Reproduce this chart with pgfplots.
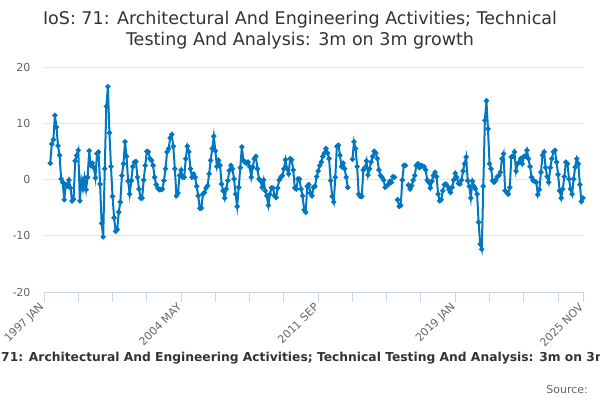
\documentclass[border=0pt]{standalone}
\usepackage{fontspec}
\setmainfont{DejaVu Sans}
\usepackage{pgfplots}
\pgfplotsset{compat=1.18}
\usepackage{pgfplotstable}
\definecolor{series}{RGB}{0,119,192}
\definecolor{gridc}{RGB}{230,230,230}
\definecolor{axisc}{RGB}{204,214,235}
\definecolor{txt}{RGB}{51,51,51}
\definecolor{lbl}{RGB}{102,102,102}

\pgfplotstableread{
m v
4 2.9
5 6.3
6 7.1
7 11.4
8 9.3
9 6.0
10 4.3
11 0.1
12 -0.5
13 -3.6
14 -0.9
15 -1.2
16 -0.1
17 -1.5
18 -3.8
19 -3.5
20 3.3
21 4.3
22 5.2
23 -3.8
24 -0.2
25 -1.7
26 0.3
27 -1.8
28 0.4
29 5.1
30 2.5
31 2.9
32 2.1
33 0.3
34 4.6
35 4.9
36 -0.8
37 -7.8
38 -10.2
39 1.9
40 13.0
41 16.5
42 8.3
43 2.3
44 -3.0
45 -6.8
46 -9.2
47 -8.9
48 -5.8
49 -4.0
50 0.7
51 2.8
52 6.7
53 4.1
54 -0.3
55 -2.6
56 -0.2
57 2.3
58 3.1
59 3.2
60 0.4
61 -1.7
62 -3.3
63 -3.3
64 -0.1
65 2.5
66 5.0
67 4.9
68 3.7
69 3.4
70 2.5
71 0.4
72 -0.9
73 -1.5
74 -1.8
75 -1.8
76 -1.7
77 -0.2
78 1.9
79 4.9
80 5.5
81 7.4
82 8.0
83 5.9
84 1.9
85 -2.9
86 -2.4
87 0.7
88 1.7
89 0.4
90 0.4
91 3.7
92 5.9
93 4.9
94 1.9
95 0.4
96 1.0
97 0.4
98 -1.2
99 -2.9
100 -5.1
101 -5.1
102 -2.6
103 -2.3
104 -1.5
105 -1.1
106 1.0
107 3.4
108 5.5
109 7.7
110 5.1
111 2.3
112 3.4
113 2.5
114 -0.8
115 -2.0
116 -3.3
117 -1.7
118 -0.2
119 1.6
120 2.5
121 1.9
122 0.1
123 -2.6
124 -4.8
125 -1.4
126 2.1
127 5.8
128 3.4
129 3.1
130 2.9
131 3.1
132 2.3
133 0.4
134 2.2
135 3.7
136 4.1
137 1.9
138 0.1
139 -0.2
140 -1.4
141 -0.1
142 -2.0
143 -2.9
144 -4.6
145 -2.6
146 -1.5
147 -1.5
148 -2.9
149 -3.2
150 -1.5
151 -0.1
152 0.4
153 0.7
154 1.9
155 3.5
156 1.9
157 1.0
158 3.7
159 3.5
160 1.7
161 -1.5
162 -1.7
163 0.1
164 0.1
165 -1.7
166 -2.9
167 -5.4
168 -5.8
169 -1.2
170 -0.9
171 -2.4
172 -2.9
173 -1.4
174 -1.2
175 0.5
176 1.5
177 2.5
178 3.1
179 4.1
180 4.7
181 5.5
182 4.7
183 3.7
184 -0.2
185 -3.0
186 -4.0
187 0.4
188 5.9
189 6.1
190 4.3
191 2.3
192 2.9
193 1.9
194 0.4
195 -1.4
196 nan
197 nan
198 3.6
199 6.7
200 5.5
201 2.3
202 -2.6
203 -3.0
204 -3.0
205 1.7
206 2.1
207 3.3
208 0.8
209 1.9
210 3.1
211 4.1
212 5.0
213 4.7
214 3.7
215 1.7
216 0.7
217 0.4
218 -0.1
219 -1.4
220 -1.1
221 -0.9
222 -0.3
223 -0.5
224 0.5
225 0.4
226 nan
227 -3.6
228 -4.8
229 -4.6
230 -0.1
231 2.5
232 2.5
233 nan
234 -1.0
235 -1.7
236 -1.1
237 -0.1
238 0.7
239 2.5
240 2.8
241 2.1
242 2.5
243 2.4
244 2.3
245 1.7
246 -0.1
247 -0.5
248 -1.5
249 -0.3
250 0.7
251 1.3
252 0.5
253 -2.6
254 -3.8
255 -3.6
256 -2.0
257 -0.9
258 -0.8
259 -1.2
260 -1.8
261 -2.3
262 -1.4
263 -0.1
264 1.1
265 0.4
266 -0.7
267 -0.8
268 -0.1
269 1.5
270 2.8
271 4.0
272 -0.2
273 -1.2
274 -3.3
275 -0.3
276 -1.2
277 -1.7
278 -2.6
279 -7.6
280 -11.5
281 -12.4
282 -1.2
283 10.5
284 14.0
285 9.0
286 2.8
287 1.9
288 -0.2
289 -0.5
290 -0.1
291 0.5
292 0.7
293 1.3
294 3.7
295 4.6
296 -2.0
297 -2.3
298 -2.6
299 -1.4
300 4.0
301 4.1
302 4.9
303 1.5
304 2.8
305 3.1
306 3.7
307 2.8
308 4.1
309 4.1
310 5.2
311 3.7
312 2.3
313 0.4
314 -0.2
315 -0.3
316 -0.5
317 -2.7
318 -1.8
319 1.3
320 4.3
321 4.9
322 2.1
323 0.5
324 -0.5
325 2.1
326 3.7
327 4.9
328 5.2
329 3.1
330 0.9
331 -2.0
332 -3.3
333 -1.7
334 0.5
335 3.1
336 2.8
337 0.1
338 -1.7
339 -2.6
340 0.1
341 2.2
342 3.7
343 2.8
344 -0.9
345 -3.9
346 -3.3
}\data

\begin{document}
\begin{tikzpicture}[x=1pt,y=1pt]
\begin{axis}[
  at={(44pt,-292pt)}, anchor=south west,
  scale only axis, width=539pt, height=225pt,
  xmin=0, xmax=346, ymin=-20, ymax=20,
  ytick={-20,-10,0,10,20},
  xtick={0,88,176,264,346},
  minor xtick={22,44,66,110,132,154,198,220,242,286,308,330},
  xticklabels={1997 JAN,2004 MAY,2011 SEP,2019 JAN,2025 NOV},
  axis x line*=bottom, axis y line*=left,
  x axis line style={axisc, line width=1pt, -},
  y axis line style={draw=none},
  xtick style={axisc, line width=1pt},
  minor x tick style={axisc, line width=1pt},
  ytick style={draw=none},
  major tick length=10pt, minor tick length=10pt,
  xtick align=outside,
  ymajorgrids, grid style={gridc, line width=1pt},
  /pgf/number format/assume math mode=true,
  yticklabel style={font=\fontsize{11}{13}\selectfont, text=lbl, xshift=-10pt},
  xticklabel style={font=\fontsize{11}{13}\selectfont, text=lbl, rotate=45, anchor=east, yshift=-1pt},
  unbounded coords=jump,
  clip=false,
]
\addplot[series, line width=2pt, mark=*, mark size=1.5pt, mark options={series}] table[x=m, y=v] {\data};
\end{axis}
\node[font=\fontsize{17.5}{20}\selectfont, text=txt, anchor=base] at (300,-24.5) {IoS: 71: Architectural And Engineering Activities; Technical};
\node[font=\fontsize{17.5}{20}\selectfont, text=txt, anchor=base] at (300,-45) {Testing And Analysis: 3m on 3m growth};
\begin{scope}
\clip (0,-330) rectangle (600,-380);
\node[font=\bfseries\fontsize{12.3}{14}\selectfont, text=txt, anchor=base west, inner sep=0pt] at (1,-361) {\llap{IoS: }71: Architectural And Engineering Activities; Technical Testing And Analysis: 3m on 3m\rlap{ growth}};
\end{scope}
\node[font=\fontsize{11}{13}\selectfont, text=lbl, anchor=base east, inner sep=0pt] at (588,-393) {Source:};
\pgfresetboundingbox
\path[use as bounding box] (0,0) rectangle (600,-400);
\end{tikzpicture}
\end{document}
